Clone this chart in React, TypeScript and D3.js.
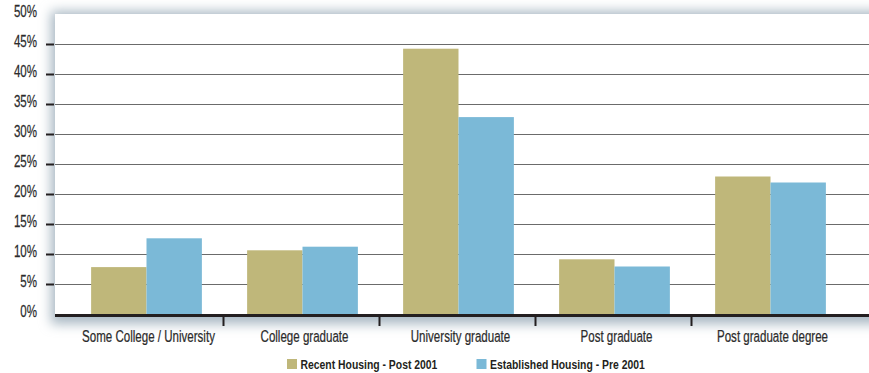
import React from "react";
import * as d3 from "d3";

const categories = [
  "Some College / University",
  "College graduate",
  "University graduate",
  "Post graduate",
  "Post graduate degree",
];
const seriesNames = ["Recent Housing - Post 2001", "Established Housing - Pre 2001"];
const recentValues = [0.079, 0.107, 0.443, 0.092, 0.23];
const establishedValues = [0.127, 0.113, 0.329, 0.08, 0.22];
const yTicks = [0, 0.05, 0.1, 0.15, 0.2, 0.25, 0.3, 0.35, 0.4, 0.45, 0.5];

const W = 869;
const H = 373;
const COLORS = ["#bfb77a", "#7bb9d7"];
const FONT = "'Liberation Sans', Arial, sans-serif";

export default function App() {
  const plotLeft = 55;
  const plotRight = 869;
  const y = d3.scaleLinear().domain([0, 0.5]).range([314.5, 14.5]);
  const x0 = d3
    .scaleBand<string>()
    .domain(categories)
    .range([68.5, 848.5])
    .paddingInner(0.29)
    .paddingOuter(0.145);
  const x1 = d3.scaleBand<number>().domain([0, 1]).range([0, x0.bandwidth()]);
  const step = x0.step();
  const series = [recentValues, establishedValues];
  const fmt = d3.format(".0%");

  return (
    <svg
      width={W}
      height={H}
      style={{ position: "absolute", left: 0, top: 0, background: "#fff" }}
    >
      <defs>
        <filter id="shadow" x="-20%" y="-20%" width="140%" height="140%">
          <feGaussianBlur stdDeviation="6" />
        </filter>
      </defs>
      {/* panel shadow */}
      <rect
        x={plotLeft - 4}
        y={11}
        width={plotRight - plotLeft + 40}
        height={313}
        fill="#a9b8c3"
        filter="url(#shadow)"
      />
      <rect x={plotLeft} y={14} width={plotRight - plotLeft + 20} height={300.5} fill="#fff" />

      {/* gridlines and y ticks */}
      {yTicks.map((t) =>
        t > 0 && t < 0.5 ? (
          <g key={"g" + t}>
            <line
              x1={plotLeft}
              x2={plotRight}
              y1={y(t)}
              y2={y(t)}
              stroke="#6b6b6b"
              strokeWidth={1}
            />
            <line x1={46} x2={54} y1={y(t)} y2={y(t)} stroke="#231f20" strokeWidth={2} />
          </g>
        ) : null
      )}
      {yTicks.map((t) => (
        <text
          key={"yl" + t}
          transform={`translate(37,${y(t) - 2}) scale(0.68,1)`}
          textAnchor="end"
          dominantBaseline="middle"
          fontFamily={FONT}
          fontSize={17}
          fill="#2b2b2b"
          stroke="#2b2b2b"
          strokeWidth={0.25}
        >
          {fmt(t)}
        </text>
      ))}

      {/* bars */}
      {categories.map((c, i) =>
        series.map((vals, s) => (
          <rect
            key={c + s}
            x={(x0(c) as number) + (x1(s) as number)}
            y={y(vals[i])}
            width={x1.bandwidth()}
            height={y(0) - y(vals[i])}
            fill={COLORS[s]}
          />
        ))
      )}

      {/* baseline */}
      <rect x={plotLeft} y={314} width={plotRight - plotLeft} height={3} fill="#231f20" />
      {categories.slice(1).map((c) => (
        <rect
          key={"sep" + c}
          x={(x0(c) as number) - step * 0.145 - 2}
          y={316}
          width={2}
          height={10}
          fill="#231f20"
        />
      ))}

      {/* x labels */}
      {categories.map((c) => (
        <text
          key={"xl" + c}
          transform={`translate(${(x0(c) as number) + x0.bandwidth() / 2 + 2},342) scale(0.7,1)`}
          textAnchor="middle"
          fontFamily={FONT}
          fontSize={16.5}
          fill="#2b2b2b"
          stroke="#2b2b2b"
          strokeWidth={0.25}
        >
          {c}
        </text>
      ))}

      {/* legend */}
      {seriesNames.map((name, s) => {
        const lx = [287, 476.5][s];
        return (
          <g key={name}>
            <rect x={lx} y={359} width={10} height={10} fill={COLORS[s]} />
            <text
              transform={`translate(${lx + 13.5},369) scale(0.8,1)`}
              fontFamily={FONT}
              fontSize={13}
              fontWeight="bold"
              fill="#231f20"
            >
              {name}
            </text>
          </g>
        );
      })}
    </svg>
  );
}
